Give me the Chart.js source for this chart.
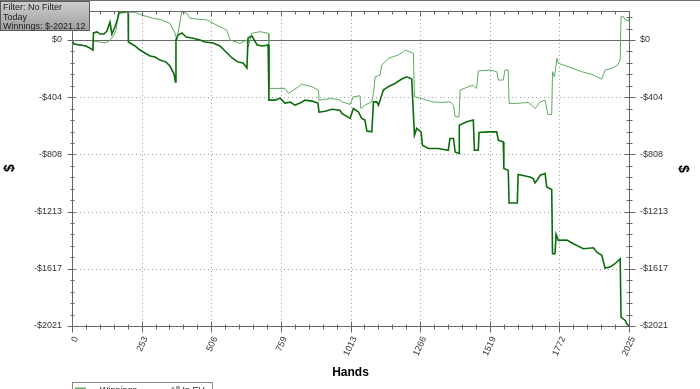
<!DOCTYPE html>
<html>
<head>
<meta charset="utf-8">
<script src="https://cdn.jsdelivr.net/npm/chart.js@4.4.0/dist/chart.umd.min.js"></script>
<style>
  html, body { margin: 0; padding: 0; background: #fff; overflow: hidden; }
</style>
</head>
<body>
<canvas id="winChart" width="700" height="389"></canvas>
<script>
// hand number / cumulative $ (dark line = Winnings)
const winHands = [0, 7, 29, 51, 65, 76, 78, 91, 102, 116, 127, 138, 145, 156, 167, 171, 193, 204, 205, 229,
  247, 265, 284, 302, 320, 342, 356, 371, 376, 378, 385, 400, 415, 436, 465, 484, 513, 538, 560, 582,
  604, 622, 636, 640, 654, 673, 694, 713, 716, 738, 756, 774, 793, 811, 829, 847, 873, 894, 898, 920,
  945, 974, 981, 1011, 1023, 1041, 1053, 1065, 1072, 1090, 1096, 1108, 1114, 1120, 1132, 1150, 1174, 1199, 1217, 1235,
  1245, 1253, 1269, 1274, 1296, 1332, 1368, 1374, 1387, 1393, 1407, 1408, 1435, 1459, 1463, 1477, 1480, 1514, 1544, 1550,
  1568, 1570, 1586, 1589, 1619, 1622, 1665, 1677, 1683, 1692, 1702, 1720, 1726, 1744, 1747, 1756, 1760, 1768, 1799, 1823,
  1859, 1896, 1908, 1926, 1938, 1956, 1974, 1993, 1996, 2011, 2017, 2025];
const winValues = [0, -28, -35, -42, -57, -71, 50, 57, 42, 42, 64, 127, 42, 92, 156, 198, 198, 205, -14, -42,
  -71, -92, -113, -120, -142, -156, -184, -241, -297, 0, 35, 50, 21, 14, 0, -14, -21, -42, -85, -127,
  -156, -163, -198, 14, 28, -35, -42, -35, -425, -425, -411, -446, -439, -460, -446, -425, -432, -446, -510, -503,
  -489, -496, -519, -554, -484, -507, -554, -566, -644, -649, -437, -437, -460, -425, -354, -330, -307, -276, -260, -276,
  -673, -625, -649, -743, -767, -767, -779, -696, -696, -791, -802, -602, -578, -566, -779, -779, -654, -649, -649, -708,
  -720, -908, -920, -1152, -1152, -951, -968, -979, -1010, -987, -956, -944, -1039, -1057, -1510, -1510, -1373, -1416, -1413, -1440,
  -1475, -1468, -1499, -1522, -1612, -1605, -1581, -1546, -1959, -1982, -2006, -2021.12];

// light line = All In EV
const evHands = [0, 7, 29, 51, 65, 76, 78, 100, 120, 135, 145, 152, 160, 168, 180, 200, 230, 253, 296, 320,
  356, 375, 381, 399, 417, 429, 490, 538, 562, 575, 611, 635, 641, 653, 684, 714, 716, 774, 787, 823,
  835, 872, 896, 898, 944, 974, 981, 1011, 1023, 1047, 1050, 1065, 1090, 1096, 1102, 1120, 1126, 1150, 1168, 1187,
  1205, 1211, 1241, 1245, 1271, 1308, 1344, 1374, 1387, 1393, 1407, 1411, 1441, 1459, 1471, 1477, 1520, 1544, 1550, 1568,
  1574, 1586, 1589, 1617, 1659, 1684, 1702, 1720, 1730, 1744, 1747, 1754, 1763, 1769, 1805, 1853, 1890, 1926, 1938, 1962,
  1984, 1993, 1996, 2005, 2011, 2023, 2025];
const evValues = [0, -28, -35, -42, -57, -71, -7, -14, -21, -7, 14, 35, 70, 182, 190, 198, 195, 177, 153, 146,
  118, 47, 0, 200, 189, 153, 142, 94, 71, 0, -24, 0, -47, 47, 59, 47, -342, -342, -378, -330,
  -312, -330, -354, -425, -413, -425, -437, -455, -401, -394, -484, -460, -437, -378, -260, -248, -177, -130, -118, -106,
  -83, -71, -94, -401, -413, -437, -441, -437, -460, -543, -543, -354, -330, -319, -342, -219, -212, -224, -283, -283,
  -212, -212, -448, -448, -441, -484, -437, -425, -526, -526, -224, -260, -130, -165, -189, -224, -243, -276, -212, -201,
  -177, -142, 165, 165, 142, 135, 149];

const xTickValues = [0, 253.125, 506.25, 759.375, 1012.5, 1265.625, 1518.75, 1771.875, 2025];
const xTickLabels = ['0', '253', '506', '759', '1013', '1266', '1519', '1772', '2025'];
const yTickValues = [0, -404.224, -808.448, -1212.672, -1616.896, -2021.12];
const yTickLabels = ['$0', '-$404', '-$808', '-$1213', '-$1617', '-$2021'];
const yMin = -2021.12, yMax = 205;

const labelFont = { family: 'Liberation Sans', size: 9 };

function hline(ctx, x1, x2, y) { ctx.beginPath(); ctx.moveTo(x1, y); ctx.lineTo(x2, y); ctx.stroke(); }
function vline(ctx, x, y1, y2) { ctx.beginPath(); ctx.moveTo(x, y1); ctx.lineTo(x, y2); ctx.stroke(); }

function noPad(s) {
  s.paddingTop = 0; s.paddingBottom = 0; s.paddingLeft = 0; s.paddingRight = 0;
}

const frame = {
  id: 'frame',
  beforeDatasetsDraw(chart) {
    const { ctx, chartArea: a, scales: { x, y } } = chart;
    ctx.save();
    ctx.lineWidth = 1;
    ctx.strokeStyle = '#a0a0a0';
    ctx.setLineDash([1, 3]);
    xTickValues.slice(1, -1).forEach(v => {
      vline(ctx, Math.round(x.getPixelForValue(v)) + 0.5, a.top, a.bottom);
    });
    yTickValues.slice(1, -1).forEach(v => {
      hline(ctx, a.left, a.right, Math.round(y.getPixelForValue(v)) + 0.5);
    });
    ctx.setLineDash([]);
    ctx.strokeStyle = '#6a6a6a';
    hline(ctx, a.left, a.right + 6, Math.round(y.getPixelForValue(0)) + 0.5);
    ctx.restore();
  },
  afterDraw(chart) {
    const { ctx, chartArea: a, scales: { x, y } } = chart;
    const L = Math.round(a.left) + 0.5, R = Math.round(a.right) + 0.5, T = Math.round(a.top) + 0.5, B = Math.round(a.bottom) + 0.5;
    ctx.save();
    ctx.lineWidth = 1;
    ctx.strokeStyle = '#666';
    hline(ctx, L, R, T);
    hline(ctx, L, R, B);
    vline(ctx, L, T, B);
    vline(ctx, R, T, B);
    // minor / major ticks
    for (let i = 0; i <= 40; i++) {
      const px = Math.round(x.getPixelForValue(i * 2025 / 40)) + 0.5;
      const major = i % 5 === 0;
      vline(ctx, px, B - (major ? 5 : 2), B + (major ? 6 : 3));
      vline(ctx, px, T, T + (major ? 5 : 3));
    }
    for (let i = 0; i <= 27; i++) {
      const v = yMin + i * 404.224 / 5;
      if (v > yMax) break;
      const py = Math.round(y.getPixelForValue(v)) + 0.5;
      const major = i % 5 === 0;
      hline(ctx, L - (major ? 5 : 2), L + (major ? 3 : 2), py);
      hline(ctx, R - (major ? 5 : 3), R + (major ? 6 : 3), py);
    }
    // axis titles
    ctx.fillStyle = '#000';
    ctx.font = 'bold 12px "Liberation Sans"';
    ctx.textAlign = 'center';
    ctx.textBaseline = 'alphabetic';
    ctx.fillText('Hands', (a.left + a.right) / 2, 376);
    ctx.font = 'bold 14px "Liberation Sans"';
    ctx.textBaseline = 'middle';
    ctx.save(); ctx.translate(10, 168); ctx.rotate(-Math.PI / 2); ctx.fillText('$', 0, 0); ctx.restore();
    ctx.save(); ctx.translate(683, 169); ctx.rotate(Math.PI / 2); ctx.fillText('$', 0, 0); ctx.restore();
    // top border
    ctx.fillStyle = '#6e6e6e';
    ctx.fillRect(0, 0, 700, 1);
    // filter box
    const g = ctx.createLinearGradient(0, 1, 0, 31);
    g.addColorStop(0, '#cfcfcf');
    g.addColorStop(1, '#9d9d9d');
    ctx.fillStyle = g;
    ctx.fillRect(0, 1, 90, 30);
    ctx.strokeStyle = '#5a5a5a';
    ctx.strokeRect(0.5, 1.5, 89, 29);
    ctx.fillStyle = '#1e1e1e';
    ctx.font = '9px "Liberation Sans"';
    ctx.textAlign = 'left';
    ctx.textBaseline = 'alphabetic';
    ctx.fillText('Filter: No Filter', 3, 10);
    ctx.fillText('Today', 3, 19.5);
    ctx.fillText('Winnings: $-2021.12', 3, 29);
    // legend (cut off by the window)
    ctx.strokeStyle = '#8a8a8a';
    ctx.strokeRect(72.5, 382.5, 140, 20);
    ctx.strokeStyle = '#5fae5f';
    ctx.lineWidth = 2;
    hline(ctx, 75, 86, 388.5);
    ctx.fillStyle = '#222';
    ctx.fillText('Winnings', 100, 393);
    ctx.fillText('All In EV', 170, 393);
    ctx.restore();
  }
};

const ctx = document.getElementById('winChart').getContext('2d');
new Chart(ctx, {
  type: 'line',
  data: {
    datasets: [{
      label: 'Winnings',
      data: winHands.map((h, i) => ({ x: h, y: winValues[i] })),
      borderColor: '#0c6b0c',
      borderWidth: 1.6,
      pointRadius: 0,
      tension: 0
    }, {
      label: 'All In EV',
      data: evHands.map((h, i) => ({ x: h, y: evValues[i] })),
      borderColor: '#5fa95f',
      borderWidth: 1,
      pointRadius: 0,
      tension: 0
    }]
  },
  options: {
    responsive: false,
    animation: false,
    events: [],
    layout: { padding: { top: 11, left: 0, right: 0, bottom: 0 } },
    plugins: { legend: { display: false }, tooltip: { enabled: false } },
    scales: {
      x: {
        type: 'linear', min: 0, max: 2025,
        grid: { display: false, drawTicks: false },
        border: { display: false },
        afterBuildTicks: s => { s.ticks = xTickValues.map(v => ({ value: v })); },
        afterFit: s => { s.height = 63; noPad(s); },
        ticks: {
          autoSkip: false, minRotation: 65, maxRotation: 65, padding: 9, labelOffset: 4,
          color: '#333', font: labelFont,
          callback: (v, i) => xTickLabels[i]
        }
      },
      y: {
        position: 'left', min: yMin, max: yMax,
        grid: { display: false, drawTicks: false },
        border: { display: false },
        afterBuildTicks: s => { s.ticks = yTickValues.map(v => ({ value: v })); },
        afterFit: s => { s.width = 72; noPad(s); },
        ticks: { padding: 10, color: '#333', font: labelFont, callback: (v, i) => yTickLabels[i] }
      },
      y2: {
        position: 'right', min: yMin, max: yMax,
        grid: { display: false, drawTicks: false },
        border: { display: false },
        afterBuildTicks: s => { s.ticks = yTickValues.map(v => ({ value: v })); },
        afterFit: s => { s.width = 71; noPad(s); },
        ticks: { padding: 11, color: '#333', font: labelFont, callback: (v, i) => yTickLabels[i] }
      }
    }
  },
  plugins: [frame]
});
</script>
</body>
</html>
